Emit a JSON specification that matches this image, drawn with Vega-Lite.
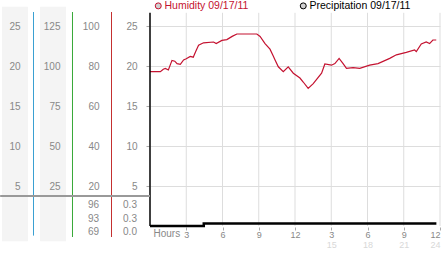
{
  "$schema": "https://vega.github.io/schema/vega-lite/v6.json",
  "width": 290,
  "height": 225,
  "autosize": {"type": "none"},
  "padding": {"left": 150, "top": 12, "right": 2, "bottom": 16},
  "background": "white",
  "config": {
    "view": {"stroke": null},
    "font": "Liberation Sans",
    "axis": {"labelFont": "Liberation Sans", "labelFontSize": 10, "labelColor": "#888888", "titleFont": "Liberation Sans"}
  },
  "datasets": {
    "series": [
      {"hour": 0, "series": "Humidity 09/17/11", "value": 77.2},
      {"hour": 0.86, "series": "Humidity 09/17/11", "value": 77.2},
      {"hour": 1.1, "series": "Humidity 09/17/11", "value": 78.4},
      {"hour": 1.27, "series": "Humidity 09/17/11", "value": 78.8},
      {"hour": 1.52, "series": "Humidity 09/17/11", "value": 78.0},
      {"hour": 1.82, "series": "Humidity 09/17/11", "value": 82.8},
      {"hour": 2.05, "series": "Humidity 09/17/11", "value": 82.4},
      {"hour": 2.24, "series": "Humidity 09/17/11", "value": 81.2},
      {"hour": 2.51, "series": "Humidity 09/17/11", "value": 80.8},
      {"hour": 2.78, "series": "Humidity 09/17/11", "value": 83.0},
      {"hour": 3.0, "series": "Humidity 09/17/11", "value": 83.6},
      {"hour": 3.33, "series": "Humidity 09/17/11", "value": 84.8},
      {"hour": 3.58, "series": "Humidity 09/17/11", "value": 84.4},
      {"hour": 3.8, "series": "Humidity 09/17/11", "value": 87.5},
      {"hour": 4.02, "series": "Humidity 09/17/11", "value": 90.4},
      {"hour": 4.43, "series": "Humidity 09/17/11", "value": 91.6},
      {"hour": 5.26, "series": "Humidity 09/17/11", "value": 92.0},
      {"hour": 5.48, "series": "Humidity 09/17/11", "value": 91.2},
      {"hour": 5.95, "series": "Humidity 09/17/11", "value": 92.8},
      {"hour": 6.36, "series": "Humidity 09/17/11", "value": 93.2},
      {"hour": 6.8, "series": "Humidity 09/17/11", "value": 94.8},
      {"hour": 7.19, "series": "Humidity 09/17/11", "value": 96.0},
      {"hour": 8.84, "series": "Humidity 09/17/11", "value": 96.0},
      {"hour": 9.11, "series": "Humidity 09/17/11", "value": 94.8},
      {"hour": 9.52, "series": "Humidity 09/17/11", "value": 91.2},
      {"hour": 9.93, "series": "Humidity 09/17/11", "value": 88.4},
      {"hour": 10.2, "series": "Humidity 09/17/11", "value": 85.0},
      {"hour": 10.35, "series": "Humidity 09/17/11", "value": 83.0},
      {"hour": 10.62, "series": "Humidity 09/17/11", "value": 79.6},
      {"hour": 11.03, "series": "Humidity 09/17/11", "value": 77.2},
      {"hour": 11.44, "series": "Humidity 09/17/11", "value": 79.6},
      {"hour": 11.86, "series": "Humidity 09/17/11", "value": 76.4},
      {"hour": 12.41, "series": "Humidity 09/17/11", "value": 74.0},
      {"hour": 12.68, "series": "Humidity 09/17/11", "value": 72.0},
      {"hour": 13.09, "series": "Humidity 09/17/11", "value": 68.8},
      {"hour": 13.51, "series": "Humidity 09/17/11", "value": 71.2},
      {"hour": 14.2, "series": "Humidity 09/17/11", "value": 76.4},
      {"hour": 14.47, "series": "Humidity 09/17/11", "value": 81.0},
      {"hour": 15.02, "series": "Humidity 09/17/11", "value": 80.4},
      {"hour": 15.3, "series": "Humidity 09/17/11", "value": 81.2},
      {"hour": 15.65, "series": "Humidity 09/17/11", "value": 83.8},
      {"hour": 15.98, "series": "Humidity 09/17/11", "value": 81.2},
      {"hour": 16.26, "series": "Humidity 09/17/11", "value": 78.8},
      {"hour": 16.81, "series": "Humidity 09/17/11", "value": 79.2},
      {"hour": 17.36, "series": "Humidity 09/17/11", "value": 78.8},
      {"hour": 18.18, "series": "Humidity 09/17/11", "value": 80.4},
      {"hour": 18.87, "series": "Humidity 09/17/11", "value": 81.2},
      {"hour": 19.84, "series": "Humidity 09/17/11", "value": 83.8},
      {"hour": 20.39, "series": "Humidity 09/17/11", "value": 85.6},
      {"hour": 21.21, "series": "Humidity 09/17/11", "value": 86.8},
      {"hour": 21.9, "series": "Humidity 09/17/11", "value": 88.0},
      {"hour": 22.04, "series": "Humidity 09/17/11", "value": 87.2},
      {"hour": 22.45, "series": "Humidity 09/17/11", "value": 91.0},
      {"hour": 22.86, "series": "Humidity 09/17/11", "value": 92.0},
      {"hour": 23.14, "series": "Humidity 09/17/11", "value": 91.2},
      {"hour": 23.41, "series": "Humidity 09/17/11", "value": 93.0},
      {"hour": 23.69, "series": "Humidity 09/17/11", "value": 93.0},
      {"hour": 0, "series": "Precipitation 09/17/11", "value": 0.0},
      {"hour": 4.45, "series": "Precipitation 09/17/11", "value": 0.3},
      {"hour": 23.7, "series": "Precipitation 09/17/11", "value": 0.3}
    ],
    "hours": [
      {"hour": 3}, {"hour": 6}, {"hour": 9}, {"hour": 12},
      {"hour": 15}, {"hour": 18}, {"hour": 21}, {"hour": 24}
    ],
    "legendItems": [
      {"label": "Humidity 09/17/11"},
      {"label": "Precipitation 09/17/11"}
    ],
    "stats": [
      {"col": "humidity", "line": 1, "text": "96"},
      {"col": "humidity", "line": 2, "text": "93"},
      {"col": "humidity", "line": 3, "text": "69"},
      {"col": "precipitation", "line": 1, "text": "0.3"},
      {"col": "precipitation", "line": 2, "text": "0.3"},
      {"col": "precipitation", "line": 3, "text": "0.0"}
    ]
  },
  "resolve": {"scale": {"y": "independent"}, "axis": {"x": "independent", "y": "independent"}},
  "layer": [
    {
      "data": {"values": [{}]},
      "mark": {"type": "rect", "color": "#f4f4f4"},
      "encoding": {
        "x": {"datum": -12.25, "type": "quantitative", "scale": {"domain": [0, 24]}, "axis": null},
        "x2": {"datum": -10.1},
        "y": {"datum": 27.4, "type": "quantitative", "scale": {"domain": [-1.375, 26.75]}, "axis": null},
        "y2": {"datum": -1.9}
      }
    },
    {
      "data": {"values": [{}]},
      "mark": {"type": "rect", "color": "#f4f4f4"},
      "encoding": {
        "x": {"datum": -9.1, "type": "quantitative", "scale": {"domain": [0, 24]}, "axis": null},
        "x2": {"datum": -6.95},
        "y": {"datum": 27.4, "type": "quantitative", "scale": {"domain": [-1.375, 26.75]}, "axis": null},
        "y2": {"datum": -1.9}
      }
    },
    {
      "data": {"name": "hours"},
      "mark": {"type": "rule", "color": "#dddddd", "strokeWidth": 1},
      "encoding": {
        "x": {"field": "hour", "type": "quantitative", "scale": {"domain": [0, 24]}, "axis": null},
        "y": {"datum": 0, "type": "quantitative", "scale": {"domain": [-1.375, 26.75]}, "axis": null},
        "y2": {"datum": 26.65}
      }
    },
    {
      "data": {"values": [{}]},
      "mark": {"type": "rule", "color": "#3aa0d2", "strokeWidth": 1},
      "encoding": {
        "x": {"datum": -9.641, "type": "quantitative", "scale": {"domain": [0, 24]}, "axis": null},
        "y": {"datum": 26.75, "type": "quantitative", "scale": {"domain": [-1.375, 26.75]}, "axis": null},
        "y2": {"datum": -1.2}
      }
    },
    {
      "data": {"values": [{}]},
      "mark": {"type": "rule", "color": "#38a838", "strokeWidth": 1},
      "encoding": {
        "x": {"datum": -6.414, "type": "quantitative", "scale": {"domain": [0, 24]}, "axis": null},
        "y": {"datum": 26.75, "type": "quantitative", "scale": {"domain": [-1.375, 26.75]}, "axis": null},
        "y2": {"datum": -1.375}
      }
    },
    {
      "data": {"values": [{}]},
      "mark": {"type": "rule", "color": "#c43030", "strokeWidth": 1},
      "encoding": {
        "x": {"datum": -3.186, "type": "quantitative", "scale": {"domain": [0, 24]}, "axis": null},
        "y": {"datum": 26.75, "type": "quantitative", "scale": {"domain": [-1.375, 26.75]}, "axis": null},
        "y2": {"datum": -1.375}
      }
    },
    {
      "data": {"values": [{}]},
      "mark": {"type": "point", "opacity": 0},
      "encoding": {
        "y": {"datum": 0, "type": "quantitative", "scale": {"domain": [-1.375, 26.75]},
          "axis": {"orient": "left", "offset": 117, "zindex": 1, "values": [5, 10, 15, 20, 25], "domain": false, "ticks": false, "labelPadding": 13, "grid": false, "title": null}}
      }
    },
    {
      "data": {"values": [{}]},
      "mark": {"type": "point", "opacity": 0},
      "encoding": {
        "y": {"datum": 0, "type": "quantitative", "scale": {"domain": [-6.875, 133.75]},
          "axis": {"orient": "left", "offset": 78, "zindex": 1, "values": [25, 50, 75, 100, 125], "domain": false, "ticks": false, "labelPadding": 12, "grid": false, "title": null}}
      }
    },
    {
      "data": {"name": "legendItems"},
      "mark": {"type": "point", "filled": true, "fill": "#d0d0d0", "stroke": "#a8a8a8", "strokeWidth": 1, "opacity": 0},
      "encoding": {
        "shape": {"field": "label", "type": "nominal",
          "scale": {"domain": ["Humidity 09/17/11", "Precipitation 09/17/11"], "range": ["circle", "circle"]},
          "legend": {"orient": "none", "legendX": 3, "legendY": -11.5, "direction": "horizontal", "title": null,
            "symbolSize": 36, "symbolStrokeWidth": 1, "symbolOpacity": 1, "symbolFillColor": "#d0d0d0", "symbolStrokeColor": "#a8a8a8",
            "labelFontSize": 10.5, "labelFont": "Liberation Sans", "labelOffset": 1, "columnPadding": 49, "padding": 0,
            "labelColor": {"expr": "datum.label == 'Humidity 09/17/11' ? '#c41230' : '#000000'"}}}
      }
    },
    {
      "data": {"name": "series"},
      "transform": [{"filter": "datum.series == 'Precipitation 09/17/11'"}],
      "mark": {"type": "line", "interpolate": "step-after", "strokeWidth": 2.5},
      "encoding": {
        "x": {"field": "hour", "type": "quantitative", "scale": {"domain": [0, 24]},
          "axis": {"orient": "bottom", "offset": -10, "values": [3, 6, 9, 12, 15, 18, 21, 24],
            "labelExpr": "datum.value > 12 ? '' + (datum.value - 12) : '' + datum.value",
            "domain": false, "tickSize": 3, "tickColor": "#aaaaaa", "labelPadding": 0, "labelColor": "#888888",
            "labelFontSize": 9, "labelFlush": true, "grid": false, "title": "Hours", "titleX": 3, "titleY": 1, "titleAlign": "left",
            "titleBaseline": "top", "titleColor": "#888888", "titleFontWeight": "normal", "titleFontSize": 10}},
        "y": {"field": "value", "type": "quantitative", "scale": {"domain": [-1.375, 26.75]},
          "axis": {"orient": "left", "offset": 1, "values": [5, 10, 15, 20, 25], "domain": false, "tickSize": 3,
            "tickColor": "#aaaaaa", "labelPadding": 9, "grid": true, "gridColor": "#dddddd", "title": null}},
        "color": {"field": "series", "type": "nominal",
          "scale": {"domain": ["Humidity 09/17/11", "Precipitation 09/17/11"], "range": ["#c41230", "#000000"]},
          "legend": null}
      }
    },
    {
      "data": {"name": "series"},
      "transform": [{"filter": "datum.series == 'Humidity 09/17/11'"}],
      "mark": {"type": "line", "strokeWidth": 1.2},
      "encoding": {
        "x": {"field": "hour", "type": "quantitative", "scale": {"domain": [0, 24]}, "axis": null},
        "y": {"field": "value", "type": "quantitative", "scale": {"domain": [-5.5, 107]},
          "axis": {"orient": "left", "offset": 39, "zindex": 1, "values": [20, 40, 60, 80, 100], "domain": false, "ticks": false, "labelPadding": 12, "grid": false, "title": null}},
        "color": {"field": "series", "type": "nominal", "legend": null}
      }
    },
    {
      "data": {"values": [{}]},
      "mark": {"type": "point", "opacity": 0},
      "encoding": {
        "x": {"datum": 0, "type": "quantitative", "scale": {"domain": [0, 24]},
          "axis": {"orient": "bottom", "offset": -10, "values": [15, 18, 21, 24], "domain": false, "ticks": false,
            "labelPadding": 13, "labelFontSize": 9, "labelColor": "#d8d8d8", "labelFlush": true, "grid": false, "title": null}}
      }
    },
    {
      "data": {"values": [{}]},
      "mark": {"type": "rule", "color": "#000000", "strokeWidth": 1.5},
      "encoding": {
        "x": {"datum": 0, "type": "quantitative", "scale": {"domain": [0, 24]}, "axis": null},
        "y": {"datum": 0, "type": "quantitative", "scale": {"domain": [-1.375, 26.75]}, "axis": null},
        "y2": {"datum": 26.65}
      }
    },
    {
      "data": {"values": [{}]},
      "mark": {"type": "rule", "color": "#999999", "strokeWidth": 2},
      "encoding": {
        "x": {"datum": -12.4, "type": "quantitative", "scale": {"domain": [0, 24]}, "axis": null},
        "x2": {"datum": 0},
        "y": {"datum": 3.75, "type": "quantitative", "scale": {"domain": [-1.375, 26.75]}, "axis": null}
      }
    },
    {
      "data": {"name": "stats"},
      "transform": [{"filter": "datum.col == 'humidity'"}],
      "mark": {"type": "text", "align": "right", "baseline": "middle", "fontSize": 10, "color": "#888888", "font": "Liberation Sans"},
      "encoding": {
        "x": {"datum": -4.22, "type": "quantitative", "scale": {"domain": [0, 24]}, "axis": null},
        "y": {"field": "line", "type": "quantitative", "scale": {"domain": [-13.6, 3.38], "reverse": true}, "axis": null},
        "text": {"field": "text"}
      }
    },
    {
      "data": {"name": "stats"},
      "transform": [{"filter": "datum.col == 'precipitation'"}],
      "mark": {"type": "text", "align": "right", "baseline": "middle", "fontSize": 10, "color": "#888888", "font": "Liberation Sans"},
      "encoding": {
        "x": {"datum": -1.08, "type": "quantitative", "scale": {"domain": [0, 24]}, "axis": null},
        "y": {"field": "line", "type": "quantitative", "scale": {"domain": [-13.6, 3.38], "reverse": true}, "axis": null},
        "text": {"field": "text"}
      }
    }
  ]
}
